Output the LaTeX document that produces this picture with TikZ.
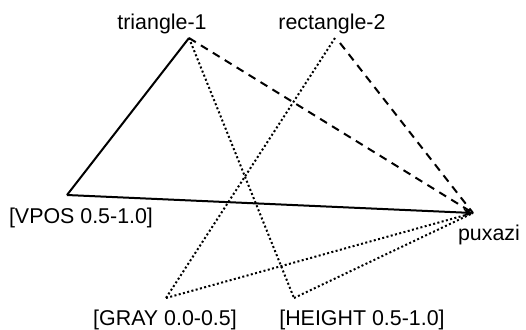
\documentclass[tikz,border=0pt]{standalone}
\usepackage{fontspec}
\setmainfont{Liberation Sans}
\usetikzlibrary{arrows.meta}

\begin{document}
\begin{tikzpicture}[x=0.5pt,y=-0.5pt,
  lbl/.style={anchor=base,inner sep=0pt,font=\fontsize{10.7}{13}\selectfont},
  solidedge/.style={line width=1pt},
  dashedge/.style={line width=1pt,dash pattern=on 4pt off 3pt},
  dotedge/.style={line width=1pt,dash pattern=on 1pt off 1.2pt}]
\useasboundingbox (0,0) rectangle (526,329);
% vertices
\coordinate (tri) at (189,38);
\coordinate (rect) at (335,38);
\coordinate (rectd) at (340,43);
\coordinate (vpos) at (67,195);
\coordinate (pux) at (473,213);
\coordinate (gray) at (166,298);
\coordinate (height) at (294,298);
% labels
\node[lbl] (ltri) at (162,29) {triangle-1};
\node[lbl] (lrect) at (332,29) {rectangle-2};
\node[lbl] (lvpos) at (81,223) {[VPOS 0.5-1.0]};
\node[lbl] (lpux) at (489,240) {puxazi};
\node[lbl] (lgray) at (165,325) {[GRAY 0.0-0.5]};
\node[lbl] (lheight) at (362,325) {[HEIGHT 0.5-1.0]};
% edges
\draw[solidedge] (tri) -- (vpos);
\draw[solidedge,-{Stealth[length=5pt,width=4pt]}] (vpos) -- (pux);
\draw[dashedge] (tri) -- (pux);
\draw[dashedge] (rectd) -- (pux);
\draw[dotedge] (tri) -- (height);
\draw[dotedge] (rect) -- (gray);
\draw[dotedge] (gray) -- (pux);
\draw[dotedge] (height) -- (pux);
\end{tikzpicture}
\end{document}
